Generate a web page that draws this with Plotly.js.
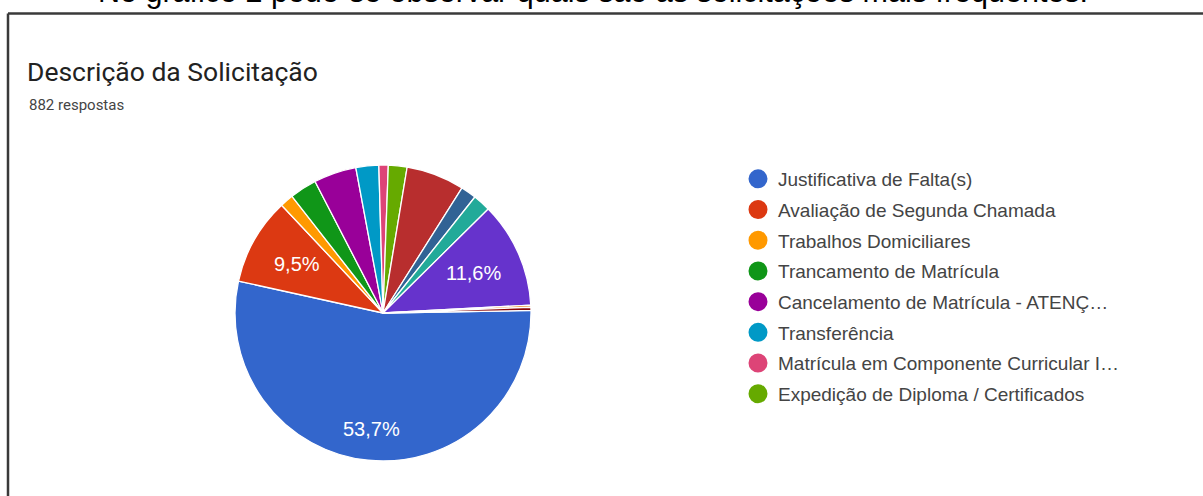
<!DOCTYPE html>
<html>
<head>
<meta charset="utf-8">
<script src="https://cdn.plot.ly/plotly-3.0.1.min.js"></script>
<style>
html, body { margin: 0; padding: 0; background: #ffffff; overflow: hidden; }
#chart { width: 1203px; height: 496px; }
</style>
</head>
<body>
<div id="chart"></div>
<script>
// ---- data ----
const categories = [
  "Justificativa de Falta(s)",
  "Avaliação de Segunda Chamada",
  "Trabalhos Domiciliares",
  "Trancamento de Matrícula",
  "Cancelamento de Matrícula - ATENÇ…",
  "Transferência",
  "Matrícula em Componente Curricular I…",
  "Expedição de Diploma / Certificados",
  "Outra solicitação 9",
  "Outra solicitação 10",
  "Outra solicitação 11",
  "Outra solicitação 12",
  "Outra solicitação 13",
  "Outra solicitação 14"
];
const counts = [474, 84, 13, 26, 41, 22, 9, 18, 56, 15, 17, 102, 2, 3];
const sliceColors = [
  "#3366cc", "#dc3912", "#ff9900", "#109618", "#990099", "#0099c6", "#dd4477",
  "#66aa00", "#b82e2e", "#316395", "#22aa99", "#6633cc", "#e67300", "#8b0707"
];
const legendCount = 8;           // categories shown in the legend page
const totalResponses = 882;
const labelThreshold = 0.09;     // share above which the slice shows its percentage
const chartTitle = "Descrição da Solicitação";
const subtitle = totalResponses + " respostas";
const captionText = "No gráfico 2 pode-se observar quais são as solicitações mais frequentes.";

// ---- layout helpers (pixel -> paper) ----
const W = 1203, H = 496;
const px = v => v / W;
const py = v => 1 - v / H;

const total = counts.reduce((a, b) => a + b, 0);
const startAngle = 89;                       // degrees clockwise from 12 o'clock
const pieBox = { left: 235, right: 531, top: 165, bottom: 461 };
const cx = (pieBox.left + pieBox.right) / 2;
const cy = (pieBox.top + pieBox.bottom) / 2;
const R = (pieBox.right - pieBox.left) / 2;

const pie = {
  type: "pie",
  labels: categories,
  values: counts,
  sort: false,
  direction: "clockwise",
  rotation: startAngle,
  marker: { colors: sliceColors, line: { color: "#ffffff", width: 1.3 } },
  textinfo: "none",
  hoverinfo: "none",
  showlegend: false,
  domain: { x: [px(pieBox.left), px(pieBox.right)], y: [py(pieBox.bottom), py(pieBox.top)] }
};

// percentage labels placed on each slice's bisector (derived from the values)
const sliceLabels = [];
let cum = 0;
counts.forEach((v, i) => {
  const share = v / total;
  const mid = startAngle + (cum + v / 2) / total * 360;
  cum += v;
  if (share < labelThreshold) return;
  const f = share > 0.5 ? 0.79 : 0.67;
  const a = mid * Math.PI / 180;
  sliceLabels.push({
    text: (share * 100).toFixed(1).replace(".", ",") + "%",
    xref: "paper", yref: "paper",
    x: px(cx + f * R * Math.sin(a)), y: py(cy - f * R * Math.cos(a)),
    xanchor: "center", yanchor: "middle", showarrow: false,
    font: { family: "Arial, 'Liberation Sans', sans-serif", size: 20, color: "#ffffff" }
  });
});

const legendTraces = categories.slice(0, legendCount).map((name, i) => ({
  type: "scatter",
  mode: "markers",
  x: [null],
  y: [null],
  name: name,
  legendgroup: "g" + i,
  marker: { color: sliceColors[i], size: 16, line: { color: sliceColors[i], width: 3 } },
  hoverinfo: "skip"
}));

const layout = {
  width: W,
  height: H,
  margin: { l: 0, r: 0, t: 0, b: 0 },
  paper_bgcolor: "#ffffff",
  plot_bgcolor: "#ffffff",
  separators: ",.",
  showlegend: true,
  xaxis: { visible: false, fixedrange: true },
  yaxis: { visible: false, fixedrange: true },
  title: {
    text: chartTitle,
    x: px(27), xanchor: "left", xref: "container",
    y: py(72), yanchor: "middle", yref: "container",
    font: { family: "Roboto, sans-serif", size: 26.5, color: "#222222" }
  },
  legend: {
    x: px(738), xanchor: "left",
    y: py(160), yanchor: "top",
    font: { family: "Arial, 'Liberation Sans', sans-serif", size: 19, color: "#444444" },
    tracegroupgap: 3,
    itemsizing: "trace",
    bgcolor: "rgba(0,0,0,0)"
  },
  annotations: [
    {
      text: subtitle, xref: "paper", yref: "paper",
      x: px(27), xanchor: "left", y: py(105), yanchor: "middle",
      showarrow: false,
      font: { family: "Roboto, sans-serif", size: 15, color: "#444444" }
    },
    {
      text: captionText, xref: "paper", yref: "paper",
      x: px(593), xanchor: "center", y: 1, yanchor: "bottom", yshift: -11,
      showarrow: false,
      font: { family: "Arial, 'Liberation Sans', sans-serif", size: 30.5, color: "#000000" }
    }
  ].concat(sliceLabels),
  shapes: [
    { type: "line", xref: "paper", yref: "paper", x0: px(8), x1: 1, y0: py(13.5), y1: py(13.5),
      line: { color: "#3a3a3a", width: 2.5 } },
    { type: "line", xref: "paper", yref: "paper", x0: px(8), x1: px(8), y0: 0, y1: py(13.5),
      line: { color: "#3a3a3a", width: 2.5 } }
  ]
};

Plotly.newPlot("chart", [pie].concat(legendTraces), layout, { displayModeBar: false, staticPlot: true });
</script>
</body>
</html>
